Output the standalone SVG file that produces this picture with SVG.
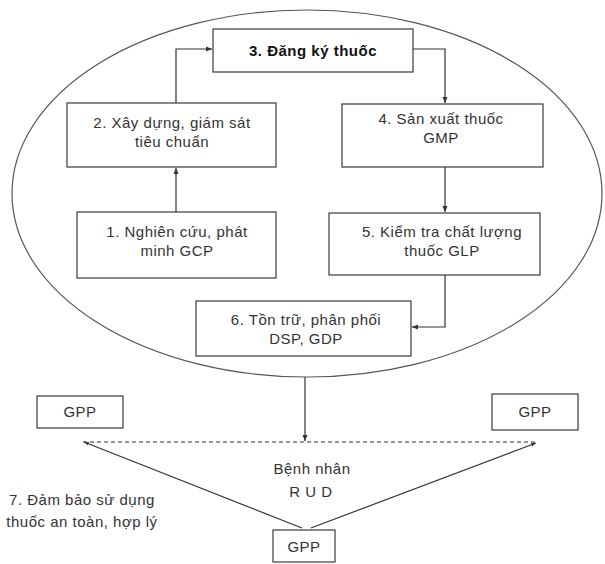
<svg xmlns="http://www.w3.org/2000/svg" width="605" height="564" viewBox="0 0 605 564">
<style>
.box{fill:#fff;stroke:#3a3a3a;stroke-width:1.2}
.t{font-family:"Liberation Sans",Arial,sans-serif;font-size:15px;fill:#333;text-anchor:middle;letter-spacing:0.5px}
.b{font-weight:bold;fill:#111}
.c{fill:none;stroke:#333;stroke-width:1.2}
.d{fill:none;stroke:#333;stroke-width:1;stroke-dasharray:4,3}
</style>
<defs>
<marker id="ah" markerWidth="7" markerHeight="7" refX="6" refY="3.5" orient="auto" markerUnits="userSpaceOnUse">
<path d="M0,1 L6,3.5 L0,6 z" fill="#333"/>
</marker>
<marker id="sh" markerWidth="6" markerHeight="6" refX="5" refY="3" orient="auto" markerUnits="userSpaceOnUse">
<path d="M0,1.2 L5,3 L0,4.8 z" fill="#333"/>
</marker>
</defs>
<rect width="605" height="564" fill="#fff"/>
<ellipse id="cycle" cx="307" cy="193.5" rx="295" ry="183.5" fill="none" stroke="#555" stroke-width="1.2"/>
<g id="connectors">
<path class="c" d="M176,212 V168" marker-end="url(#ah)"/>
<path class="c" d="M176,103 V49 H212" marker-end="url(#ah)"/>
<path class="c" d="M413,49 H445 V103" marker-end="url(#ah)"/>
<path class="c" d="M445,167 V212" marker-end="url(#ah)"/>
<path class="c" d="M445,275 V327 H412" marker-end="url(#ah)"/>
<path class="c" d="M305,377 V441" marker-end="url(#ah)"/>
<path class="d" d="M83,442 H537"/>
<path class="c" d="M302,528 L84,442" marker-end="url(#sh)"/>
<path class="c" d="M311,528 L536,443" marker-end="url(#sh)"/>
</g>
<g id="n3">
<rect class="box" x="213" y="29" width="200" height="43"/>
<text class="t b" x="313" y="56">3. Đăng ký thuốc</text>
</g>
<g id="n2">
<rect class="box" x="67" y="103" width="209" height="64"/>
<text class="t" x="172" y="128">2. Xây dựng, giám sát</text>
<text class="t" x="172" y="147">tiêu chuẩn</text>
</g>
<g id="n4">
<rect class="box" x="342" y="104" width="201" height="63"/>
<text class="t" x="441" y="124">4. Sản xuất thuốc</text>
<text class="t" x="441" y="143">GMP</text>
</g>
<g id="n1">
<rect class="box" x="77" y="212" width="199" height="66"/>
<text class="t" x="177" y="237">1. Nghiên cứu, phát</text>
<text class="t" x="177" y="256">minh GCP</text>
</g>
<g id="n5">
<rect class="box" x="329" y="213" width="211" height="62"/>
<text class="t" x="442" y="237">5. Kiểm tra chất lượng</text>
<text class="t" x="442" y="256">thuốc GLP</text>
</g>
<g id="n6">
<rect class="box" x="196" y="301" width="215" height="55"/>
<text class="t" x="306" y="325">6. Tồn trữ, phân phối</text>
<text class="t" x="306" y="344">DSP, GDP</text>
</g>
<g id="gpp-left">
<rect class="box" x="37" y="396" width="86" height="32"/>
<text class="t" x="80" y="417">GPP</text>
</g>
<g id="gpp-right">
<rect class="box" x="492" y="394" width="86" height="36"/>
<text class="t" x="535" y="417">GPP</text>
</g>
<g id="gpp-bottom">
<rect class="box" x="273" y="530" width="62" height="32"/>
<text class="t" x="304" y="552">GPP</text>
</g>
<g id="patient">
<text class="t" x="312" y="474">Bệnh nhân</text>
<text class="t" x="311" y="497">R U D</text>
</g>
<g id="n7">
<text class="t" x="82" y="505">7. Đảm bảo sử dụng</text>
<text class="t" x="82" y="527">thuốc an toàn, hợp lý</text>
</g>
</svg>
